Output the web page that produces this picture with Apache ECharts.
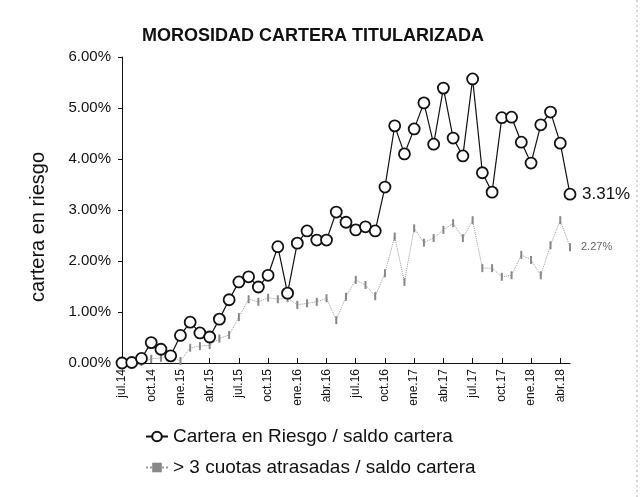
<!DOCTYPE html>
<html>
<head>
<meta charset="utf-8">
<script src="https://cdn.jsdelivr.net/npm/echarts@6/dist/echarts.min.js"></script>
<style>
  html, body { margin: 0; padding: 0; background: #fff; }
  #chart { width: 642px; height: 497px; }
</style>
</head>
<body>
<div id="chart"></div>
<script>
// meses jul.14 - may.18
var meses = [
  'jul.14','ago.14','sep.14','oct.14','nov.14','dic.14',
  'ene.15','feb.15','mar.15','abr.15','may.15','jun.15','jul.15','ago.15','sep.15','oct.15','nov.15','dic.15',
  'ene.16','feb.16','mar.16','abr.16','may.16','jun.16','jul.16','ago.16','sep.16','oct.16','nov.16','dic.16',
  'ene.17','feb.17','mar.17','abr.17','may.17','jun.17','jul.17','ago.17','sep.17','oct.17','nov.17','dic.17',
  'ene.18','feb.18','mar.18','abr.18','may.18'
];
// cartera en riesgo / saldo cartera (%)
var enRiesgo = [
  0.00, 0.01, 0.09, 0.40, 0.27, 0.14,
  0.54, 0.80, 0.59, 0.51, 0.86, 1.24, 1.59, 1.69, 1.49, 1.72, 2.28, 1.37,
  2.35, 2.59, 2.41, 2.41, 2.96, 2.76, 2.61, 2.67, 2.59, 3.45, 4.65, 4.10,
  4.59, 5.10, 4.29, 5.39, 4.41, 4.06, 5.57, 3.73, 3.35, 4.81, 4.82, 4.33,
  3.92, 4.67, 4.92, 4.31, 3.31
];
// > 3 cuotas atrasadas / saldo cartera (%)
var atrasadas = [
  0.00, 0.00, 0.02, 0.08, 0.10, 0.12,
  0.04, 0.30, 0.33, 0.35, 0.48, 0.55, 0.90, 1.25, 1.20, 1.28, 1.25, 1.27,
  1.14, 1.17, 1.20, 1.27, 0.84, 1.30, 1.63, 1.53, 1.31, 1.76, 2.48, 1.59,
  2.64, 2.36, 2.45, 2.61, 2.74, 2.45, 2.80, 1.86, 1.86, 1.69, 1.72, 2.12,
  2.02, 1.72, 2.31, 2.80, 2.27
];
var yTicks = [0, 1, 2, 3, 4, 5, 6];

var chart = echarts.init(document.getElementById('chart'));
var fuente = 'Liberation Sans, Arial, sans-serif';

var option = {
  animation: false,
  title: {
    text: 'MOROSIDAD CARTERA TITULARIZADA',
    left: 137,
    top: 22,
    textStyle: { fontFamily: fuente, fontSize: 18, fontWeight: 'bold', color: '#111' }
  },
  grid: { left: 122, right: 72, top: 57, bottom: 134 },
  legend: {
    orient: 'vertical',
    left: 140,
    top: 422,
    itemGap: 12,
    itemWidth: 22,
    itemHeight: 12,
    textStyle: { fontFamily: fuente, fontSize: 19, color: '#111' },
    data: ['Cartera en Riesgo / saldo cartera', '> 3 cuotas atrasadas / saldo cartera']
  },
  xAxis: {
    type: 'category',
    data: meses,
    boundaryGap: false,
    axisLine: { lineStyle: { color: '#111', width: 1 } },
    axisTick: { inside: true, length: 5, interval: 2, lineStyle: { color: '#111' } },
    axisLabel: {
      interval: 2,
      rotate: 90,
      margin: 6,
      fontFamily: fuente,
      fontSize: 12,
      color: '#111'
    },
    splitLine: { show: false }
  },
  yAxis: {
    type: 'value',
    min: yTicks[0],
    max: yTicks[yTicks.length - 1],
    interval: 1,
    axisLine: { show: true, lineStyle: { color: '#111', width: 1 } },
    axisTick: { show: true, length: 4, lineStyle: { color: '#111' } },
    axisLabel: {
      margin: 11,
      fontFamily: fuente,
      fontSize: 15,
      color: '#111',
      formatter: function (v) { return v.toFixed(2) + '%'; }
    },
    splitLine: { show: false }
  },
  series: [
    {
      name: 'Cartera en Riesgo / saldo cartera',
      type: 'line',
      data: enRiesgo,
      symbol: 'circle',
      symbolSize: 11,
      showAllSymbol: true,
      lineStyle: { color: '#111', width: 1.2 },
      itemStyle: { color: '#fff', borderColor: '#111', borderWidth: 1.8 },
      endLabel: {
        show: true,
        distance: 12,
        fontFamily: fuente,
        fontSize: 17,
        color: '#111',
        formatter: function (p) { return p.value.toFixed(2) + '%'; }
      },
      z: 3
    },
    {
      name: '> 3 cuotas atrasadas / saldo cartera',
      type: 'line',
      data: atrasadas,
      symbol: 'rect',
      symbolSize: [2, 8],
      showAllSymbol: true,
      lineStyle: { color: '#999', width: 1, type: 'dotted' },
      itemStyle: { color: '#888' },
      endLabel: {
        show: true,
        distance: 11,
        fontFamily: fuente,
        fontSize: 11,
        color: '#666',
        formatter: function (p) { return p.value.toFixed(2) + '%'; }
      },
      z: 2
    }
  ],
  graphic: [
    {
      type: 'text',
      left: 28,
      top: 152,
      rotation: Math.PI / 2,
      style: {
        text: 'cartera en riesgo',
        fontFamily: fuente,
        fontSize: 20,
        fill: '#111'
      }
    },
    {
      type: 'line',
      shape: { x1: 637, y1: 0, x2: 637, y2: 497 },
      style: { stroke: '#aaa', lineWidth: 1, lineDash: [2, 3] }
    }
  ]
};

chart.setOption(option);
</script>
</body>
</html>
